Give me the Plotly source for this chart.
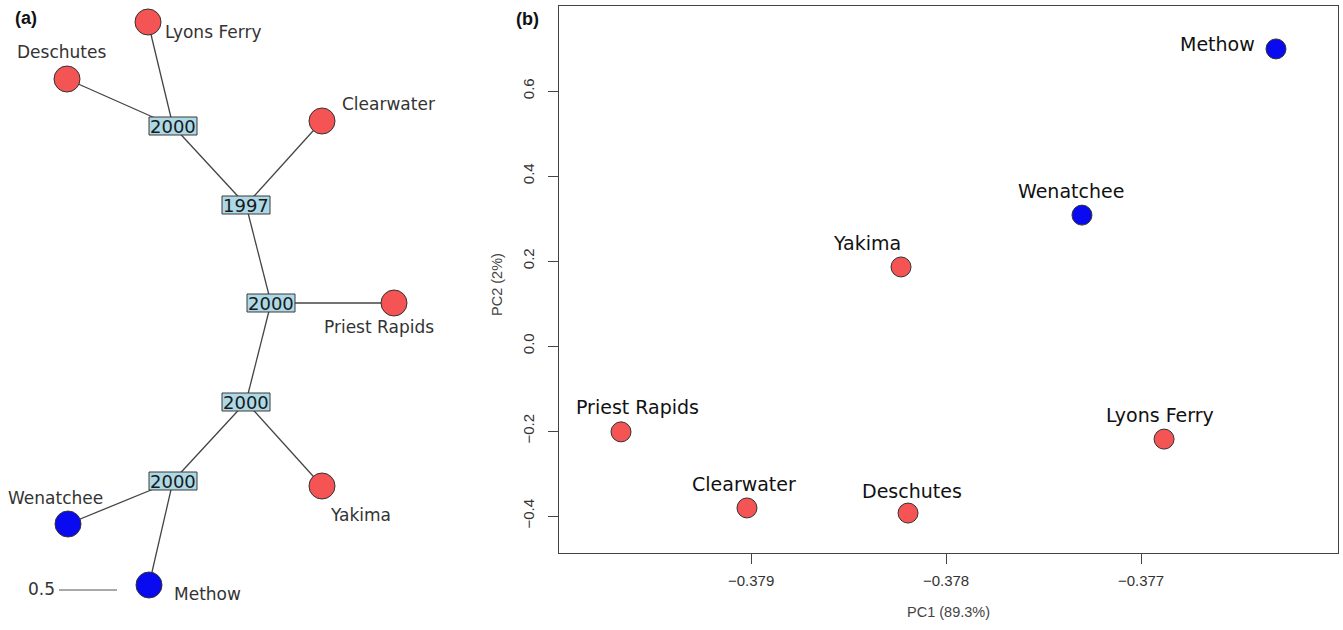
import plotly.graph_objects as go

W, H = 1343, 630

# ---------------- Panel (a): haplotype network ----------------
site_names = ["Lyons Ferry", "Deschutes", "Clearwater", "Priest Rapids",
              "Yakima", "Wenatchee", "Methow"]
site_group = ["red", "red", "red", "red", "red", "blue", "blue"]
# network layout coordinates (layout units)
site_x = [148, 67, 322, 394, 322, 68, 149]
site_y = [22, 79, 121, 303, 486, 524, 585]
site_parent = [0, 0, 1, 2, 3, 4, 4]          # index into internal nodes

inner_labels = ["2000", "1997", "2000", "2000", "2000"]
inner_x = [173, 246, 271, 246, 173]
inner_y = [126, 205, 303, 402, 481]
inner_edges = [(0, 1), (1, 2), (2, 3), (3, 4)]

# label offsets (style) for panel (a)
a_label_dx = [65, -6, 66, -15, 38, -13, 58]
a_label_dy = [10, -27, -17, 24, 29, -26, 9]

# ---------------- Panel (b): PCA ----------------
pca_names = ["Methow", "Wenatchee", "Yakima", "Priest Rapids",
             "Clearwater", "Deschutes", "Lyons Ferry"]
pca_group = ["blue", "blue", "red", "red", "red", "red", "red"]
pc1 = [-0.376308, -0.377303, -0.378231, -0.379667, -0.379021, -0.378195, -0.376882]
pc2 = [0.699, 0.308, 0.186, -0.202, -0.381, -0.393, -0.219]
b_label_dx = [-58, -11, -34, 16, -3, 4, -4]
b_label_dy = [5, 24, 24, 25, 24, 22, 24]

x_ticks = [-0.379, -0.378, -0.377]
y_ticks = [0.6, 0.4, 0.2, 0.0, -0.2, -0.4]

RED = "#F45454"
BLUE = "#0A0AF0"
col = {"red": RED, "blue": BLUE}

fig = go.Figure()

# edges
ex, ey = [], []
for i, p in enumerate(site_parent):
    ex += [site_x[i], inner_x[p], None]
    ey += [site_y[i], inner_y[p], None]
for a, b in inner_edges:
    ex += [inner_x[a], inner_x[b], None]
    ey += [inner_y[a], inner_y[b], None]
fig.add_trace(go.Scatter(x=ex, y=ey, mode="lines",
                         line=dict(color="#444444", width=1.3),
                         hoverinfo="skip", showlegend=False,
                         xaxis="x", yaxis="y"))
# site circles
fig.add_trace(go.Scatter(x=site_x, y=site_y, mode="markers",
                         marker=dict(size=26, color=[col[g] for g in site_group],
                                     line=dict(color="#333333", width=1)),
                         text=site_names, showlegend=False,
                         xaxis="x", yaxis="y"))

annotations = []
shapes = []
BW, BH = 48, 18
for lab, x, y in zip(inner_labels, inner_x, inner_y):
    shapes.append(dict(type="rect", xref="x", yref="y",
                       x0=x - BW / 2, x1=x + BW / 2, y0=y - BH / 2, y1=y + BH / 2,
                       fillcolor="#ADD8E6", line=dict(color="#3a3a3a", width=1),
                       layer="above"))
    annotations.append(dict(x=x, y=y + 0.5, xref="x", yref="y", text=lab,
                            showarrow=False,
                            font=dict(family="DejaVu Sans", size=18, color="#1a1a1a")))
for name, x, y, dx, dy in zip(site_names, site_x, site_y, a_label_dx, a_label_dy):
    annotations.append(dict(x=x + dx, y=y + dy, xref="x", yref="y", text=name,
                            showarrow=False,
                            font=dict(family="DejaVu Sans", size=17, color="#333333")))

# scale bar
shapes.append(dict(type="line", xref="x", yref="y", x0=59, x1=117, y0=590, y1=590,
                   line=dict(color="#555555", width=1.2)))
annotations.append(dict(x=41, y=589, xref="x", yref="y", text="0.5", showarrow=False,
                        font=dict(family="DejaVu Sans", size=17, color="#333333")))
annotations.append(dict(x=26, y=18, xref="x", yref="y", text="<b>(a)</b>", showarrow=False,
                        font=dict(family="Liberation Sans", size=18, color="#111111")))

# PCA points
fig.add_trace(go.Scatter(x=pc1, y=pc2, mode="markers",
                         marker=dict(size=20, color=[col[g] for g in pca_group],
                                     line=dict(color="#333333", width=1)),
                         text=pca_names, showlegend=False,
                         xaxis="x2", yaxis="y2"))
for name, x, y, dx, dy in zip(pca_names, pc1, pc2, b_label_dx, b_label_dy):
    annotations.append(dict(x=x, y=y, xref="x2", yref="y2", text=name,
                            xshift=dx, yshift=dy, showarrow=False,
                            font=dict(family="DejaVu Sans", size=19, color="#111111")))

annotations.append(dict(x=527 / W, y=1 - 19 / H, xref="paper", yref="paper",
                        xanchor="center", yanchor="middle",
                        text="<b>(b)</b>", showarrow=False,
                        font=dict(family="Liberation Sans", size=18, color="#111111")))
annotations.append(dict(x=948 / W, y=1 - 612 / H, xref="paper", yref="paper",
                        xanchor="center", yanchor="middle",
                        text="PC1 (89.3%)", showarrow=False,
                        font=dict(family="Liberation Sans", size=14.5, color="#444444")))
annotations.append(dict(x=497 / W, y=1 - 285 / H, xref="paper", yref="paper",
                        xanchor="center", yanchor="middle",
                        text="PC2 (2%)", textangle=-90, showarrow=False,
                        font=dict(family="Liberation Sans", size=14.5, color="#444444")))

fig.update_layout(
    width=W, height=H,
    margin=dict(l=0, r=0, t=0, b=0),
    paper_bgcolor="white", plot_bgcolor="white",
    xaxis=dict(domain=[0, 450 / W], range=[0, 450], visible=False, fixedrange=True),
    yaxis=dict(domain=[0, 1], range=[630, 0], visible=False, fixedrange=True),
    xaxis2=dict(domain=[559 / W, 1338 / W], range=[-0.379985, -0.37599],
                anchor="y2", tickvals=x_ticks, tickformat=".3f",
                ticks="outside", ticklen=10, tickcolor="#444444",
                showline=True, mirror=True, linecolor="#444444", linewidth=1,
                showgrid=False, zeroline=False, ticklabelstandoff=4,
                tickfont=dict(family="Liberation Sans", size=15, color="#333333")),
    yaxis2=dict(domain=[(H - 553) / H, (H - 6) / H], range=[-0.487, 0.8],
                anchor="x2", tickvals=y_ticks, tickformat=".1f", tickangle=-90,
                ticks="outside", ticklen=10, tickcolor="#444444",
                showline=True, mirror=True, linecolor="#444444", linewidth=1,
                showgrid=False, zeroline=False, ticklabelstandoff=8,
                tickfont=dict(family="Liberation Sans", size=15, color="#333333")),
    shapes=shapes,
    annotations=annotations,
)

fig.write_html("out.html")
